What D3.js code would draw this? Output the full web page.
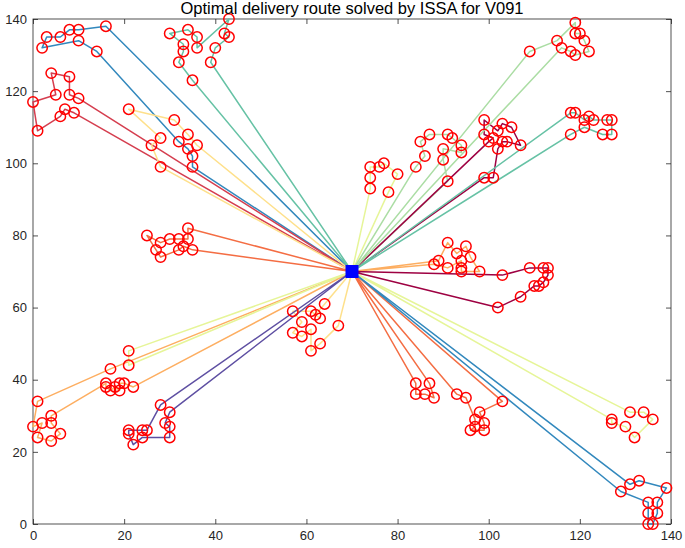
<!DOCTYPE html>
<html>
<head>
<meta charset="utf-8">
<script src="https://cdn.jsdelivr.net/npm/d3@7/dist/d3.min.js"></script>
<style>
  body { margin: 0; background: #fff; }
  svg { display: block; }
  text { font-family: "Liberation Sans", Arial, Helvetica, sans-serif; }
</style>
</head>
<body>
<svg id="chart" width="685" height="548"></svg>
<script>
const title = "Optimal delivery route solved by ISSA for V091";
const depot = [70, 70];
const axisTicks = [0, 20, 40, 60, 80, 100, 120, 140];

// customer visits per vehicle, depot is start and end
const route01 = [[16,138],[10,137],[8,137],[6,135],[3,135],[2,132],[10,134],[14,131],[32,106],[34,104],[35,102],[35,99]];
const route02 = [[10,118],[8,119],[8,124],[4,125],[5,119],[0,117],[1,109],[6,113],[7,115],[9,114]];
const route03 = [[35,123],[32,128],[33,131],[33,133],[30,136],[34,137],[36,135],[36,132],[43,140],[42,136],[43,135],[40,132],[39,128]];
const route04 = [[36,105],[34,108],[31,112],[21,115],[28,107],[26,105],[28,99]];
const route05 = [[34,82],[34,79],[32,79],[30,79],[28,78],[25,80],[27,76],[28,74],[32,76],[33,77],[35,76]];
const route06 = [[64,61],[62,58],[63,57],[61,59],[57,59],[59,56],[57,53],[59,52],[61,54],[61,48],[63,50],[67,55]];
const route07 = [[17,43],[1,34],[0,27],[2,28],[1,24],[4,23],[6,25],[4,28],[4,30],[16,39],[16,38],[17,37],[18,38],[19,37],[19,39],[20,39],[22,38]];
const route08 = [[21,48],[21,44]];
const route09 = [[28,33],[25,26],[24,26],[21,26],[21,25],[22,22],[24,24],[30,24],[30,27],[29,28],[30,31]];
const route10 = [[84,39],[84,36],[86,36],[88,35],[87,39]];
const route11 = [[93,36],[95,35],[97,29],[97,27],[96,26],[99,26],[99,28],[98,31],[103,34]];
const route12 = [[131,31],[134,31],[136,29],[132,24],[130,27],[127,28],[127,29]];
const route13 = [[131,11],[133,12],[139,10],[137,6],[137,3],[136,0],[135,0],[135,3],[135,6],[129,9]];
const route14 = [[89,73],[91,78],[93,75],[95,77],[96,74],[98,70],[94,70],[94,71],[94,73],[91,71],[88,72]];
const route15 = [[103,69],[109,71],[112,71],[113,71],[113,69],[112,67],[111,66],[110,66],[107,63],[102,60]];
const route16 = [[74,93],[74,96],[74,99],[76,99],[77,100],[80,97],[78,92]];
const route17 = [[84,99],[86,102],[85,106],[87,108],[91,108],[92,107],[94,105],[94,103],[90,104],[90,101],[91,95]];
const route18 = [[100,106],[101,107],[99,108],[99,112],[102,109],[103,111],[105,110],[107,105],[104,106],[103,106],[102,104],[101,96],[99,96]];
const route19 = [[109,131],[115,134],[119,139],[119,136],[120,136],[121,134],[122,131],[119,130],[118,131],[116,132]];
const route20 = [[118,114],[119,114],[121,112],[122,113],[123,112],[126,112],[127,112],[127,108],[125,108],[121,110],[118,108]];

const routeColors = [
  "#3288bd", "#d53e4f", "#66c2a5", "#fee08b", "#f46d43",
  "#fee08b", "#fdae61", "#e6f598", "#5e4fa2", "#f46d43",
  "#f46d43", "#e6f598", "#3288bd", "#fdae61", "#9e0142",
  "#e6f598", "#abdda4", "#9e0142", "#abdda4", "#66c2a5"
];

const routes = [route01, route02, route03, route04, route05, route06, route07, route08, route09, route10,
  route11, route12, route13, route14, route15, route16, route17, route18, route19, route20];

const svg = d3.select("#chart");
const plotLeft = 33, plotRight = 671, plotTop = 19, plotBottom = 524;

const x = d3.scaleLinear().domain([0, 140]).range([plotLeft, plotRight]);
const y = d3.scaleLinear().domain([0, 140]).range([plotBottom, plotTop]);

// frame + ticks (inward, on all four sides)
const axisColor = "#262626";

svg.append("g")
  .attr("transform", `translate(0,${plotBottom})`)
  .call(d3.axisBottom(x).tickValues(axisTicks).tickSizeInner(-5).tickSizeOuter(0).tickPadding(7))
  .call((g) => g.select(".domain").remove());

svg.append("g")
  .attr("transform", `translate(0,${plotTop})`)
  .call(d3.axisTop(x).tickValues(axisTicks).tickSizeInner(-5).tickSizeOuter(0).tickFormat(""))
  .call((g) => g.select(".domain").remove());

svg.append("g")
  .attr("transform", `translate(${plotLeft},0)`)
  .call(d3.axisLeft(y).tickValues(axisTicks).tickSizeInner(-5).tickSizeOuter(0).tickPadding(6))
  .call((g) => g.select(".domain").remove());

svg.append("g")
  .attr("transform", `translate(${plotRight},0)`)
  .call(d3.axisRight(y).tickValues(axisTicks).tickSizeInner(-5).tickSizeOuter(0).tickFormat(""))
  .call((g) => g.select(".domain").remove());

svg.selectAll(".tick line").attr("stroke", axisColor).attr("stroke-width", 0.8);
svg.selectAll(".tick text").attr("fill", axisColor).style("font-size", "13px");

svg.append("rect")
  .attr("x", plotLeft).attr("y", plotTop)
  .attr("width", plotRight - plotLeft).attr("height", plotBottom - plotTop)
  .attr("fill", "none").attr("stroke", axisColor).attr("stroke-width", 0.8);

// routes
const line = d3.line().x((d) => x(d[0])).y((d) => y(d[1]));

svg.append("g")
  .selectAll("path")
  .data(routes)
  .enter()
  .append("path")
  .attr("d", (r) => line([depot, ...r, depot]))
  .attr("fill", "none")
  .attr("stroke", (r, i) => routeColors[i])
  .attr("stroke-width", 1.5)
  .attr("stroke-linejoin", "round");

// customers
svg.append("g")
  .selectAll("circle")
  .data(routes.flat())
  .enter()
  .append("circle")
  .attr("cx", (d) => x(d[0]))
  .attr("cy", (d) => y(d[1]))
  .attr("r", 5.2)
  .attr("fill", "none")
  .attr("stroke", "#ff0000")
  .attr("stroke-width", 1.5);

// depot
svg.append("rect")
  .attr("x", x(depot[0]) - 6.5)
  .attr("y", y(depot[1]) - 6.5)
  .attr("width", 13)
  .attr("height", 13)
  .attr("fill", "#0000ff");

svg.append("text")
  .attr("x", (plotLeft + plotRight) / 2)
  .attr("y", 14)
  .attr("text-anchor", "middle")
  .style("font-size", "16.5px")
  .attr("fill", "#000")
  .text(title);
</script>
</body>
</html>
